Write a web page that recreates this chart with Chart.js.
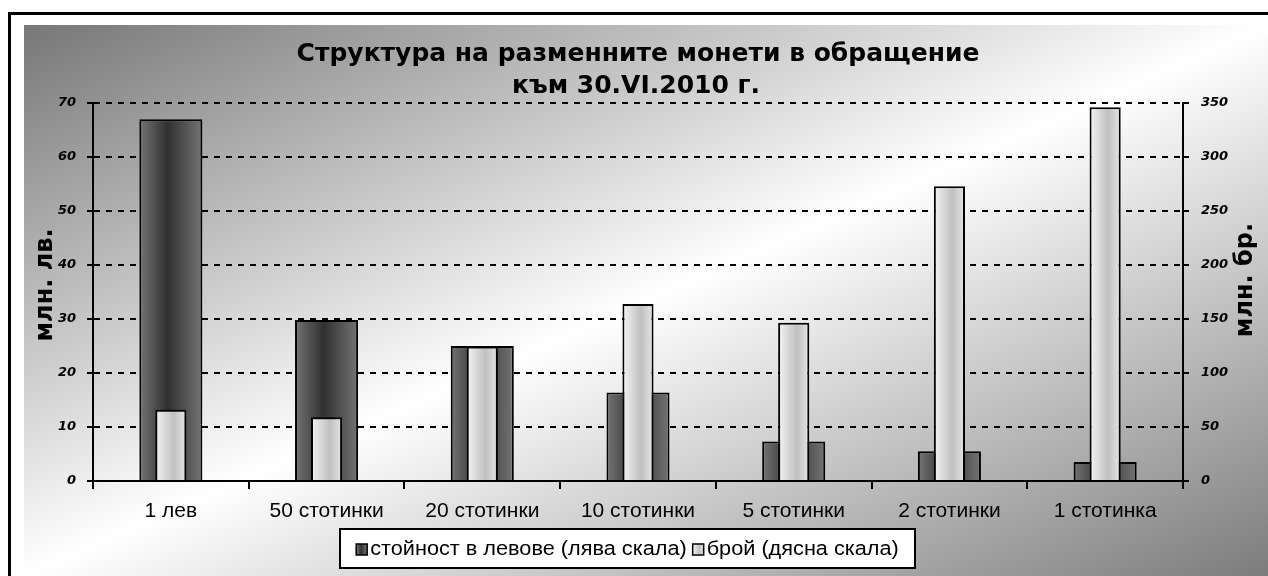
<!DOCTYPE html>
<html>
<head>
<meta charset="utf-8">
<script src="https://cdn.jsdelivr.net/npm/chart.js@4.4.0/dist/chart.umd.min.js"></script>
<style>
  html, body { margin: 0; padding: 0; background: #fff; }
  #c { display: block; }
</style>
</head>
<body>
<canvas id="c" width="1268" height="576"></canvas>
<script>
const categories = ["1 лев", "50 стотинки", "20 стотинки", "10 стотинки", "5 стотинки", "2 стотинки", "1 стотинка"];
const valueLeva = [67, 29.8, 25, 16.4, 7.3, 5.5, 3.5];      // млн. лв., left scale
const countPieces = [66, 59, 124.5, 164, 146.5, 273, 346];  // млн. бр., right scale
const leftScale = { max: 70, step: 10 };
const rightScale = { max: 350, step: 50 };
const titleLines = ["Структура на разменните монети в обращение", "към 30.VI.2010 г."];
const leftTitle = "млн. лв.";
const rightTitle = "млн. бр.";
const seriesLabels = ["стойност в левове (лява скала)", "брой (дясна скала)"];

const darkStops = [[0, "#747474"], [0.45, "#303030"], [1, "#747474"]];
const lightStops = [[0, "#f4f4f4"], [0.6, "#c0c0c0"], [1, "#e6e6e6"]];
const DARK_PCT = 0.405;
const LIGHT_PCT = 0.2;

function barFill(stops, pct) {
  return (ctx) => {
    const chart = ctx.chart;
    const x = chart.scales.x;
    if (!chart.chartArea || ctx.type !== "data" || !x) return stops[1][1];
    const cx = x.getPixelForValue(ctx.dataIndex);
    const w = (x.width / categories.length) * pct;
    const g = chart.ctx.createLinearGradient(cx - w / 2, 0, cx + w / 2, 0);
    stops.forEach(([o, c]) => g.addColorStop(o, c));
    return g;
  };
}

// background, frame, titles and boxed legend
const decorations = {
  id: "decorations",
  beforeDraw(chart) {
    const ctx = chart.ctx;
    ctx.save();
    ctx.fillStyle = "#fff";
    ctx.fillRect(0, 0, chart.width, chart.height);
    // diagonal gradient stretched to the box
    ctx.save();
    ctx.translate(24, 25);
    ctx.scale(1244, 551);
    const g = ctx.createLinearGradient(0, 0, 1, 1);
    g.addColorStop(0, "#777777");
    g.addColorStop(0.5, "#ffffff");
    g.addColorStop(1, "#7c7c7c");
    ctx.fillStyle = g;
    ctx.fillRect(0, 0, 1, 1);
    ctx.restore();
    ctx.lineWidth = 3;
    ctx.strokeStyle = "#000";
    ctx.strokeRect(9.5, 13.5, 1400, 700);
    ctx.restore();
  },
  afterDraw(chart) {
    const ctx = chart.ctx;
    ctx.save();
    ctx.fillStyle = "#000";
    ctx.textAlign = "center";
    ctx.textBaseline = "middle";
    ctx.font = "bold 25px 'DejaVu Sans'";
    ctx.fillText(titleLines[0], 638, 54);
    ctx.fillText(titleLines[1], 636, 86);

    ctx.font = "bold 24px 'DejaVu Sans'";
    [[leftTitle, 46, 285], [rightTitle, 1246, 280]].forEach(([t, x, y]) => {
      ctx.save();
      ctx.translate(x, y);
      ctx.rotate(-Math.PI / 2);
      ctx.fillText(t, 0, 0);
      ctx.restore();
    });

    // legend
    const box = { x: 340, y: 529, w: 575, h: 39 };
    ctx.fillStyle = "#fff";
    ctx.fillRect(box.x, box.y, box.w, box.h);
    ctx.lineWidth = 2;
    ctx.strokeStyle = "#000";
    ctx.strokeRect(box.x, box.y, box.w, box.h);
    ctx.font = "20px 'Liberation Sans'";
    ctx.textAlign = "left";
    const stretch = 1.085;
    const sq = 11, gapIn = 3, gapOut = 6;
    const widths = seriesLabels.map(t => ctx.measureText(t).width * stretch);
    const total = widths.reduce((a, b) => a + b, 0) + 2 * (sq + gapIn) + gapOut;
    let x = box.x + (box.w - total) / 2;
    const cy = box.y + box.h / 2 + 1;
    [darkStops, lightStops].forEach((stops, i) => {
      const lg = ctx.createLinearGradient(x, 0, x + sq, 0);
      stops.forEach(([o, c]) => lg.addColorStop(o, c));
      ctx.fillStyle = lg;
      ctx.fillRect(x, cy - sq / 2, sq, sq);
      ctx.lineWidth = 1.5;
      ctx.strokeRect(x, cy - sq / 2, sq, sq);
      ctx.fillStyle = "#000";
      ctx.save();
      ctx.translate(x + sq + gapIn, cy);
      ctx.scale(stretch, 1);
      ctx.fillText(seriesLabels[i], 0, 0);
      ctx.restore();
      x += sq + gapIn + widths[i] + gapOut;
    });
    ctx.restore();
  }
};

const tickFont = { family: "'DejaVu Sans'", size: 13, weight: "bold", style: "italic" };

new Chart(document.getElementById("c"), {
  type: "bar",
  data: {
    labels: categories,
    datasets: [
      {
        label: seriesLabels[0],
        data: valueLeva,
        yAxisID: "y",
        grouped: false,
        order: 2,
        categoryPercentage: 1,
        barPercentage: DARK_PCT,
        backgroundColor: barFill(darkStops, DARK_PCT),
        borderColor: "#000",
        borderWidth: 2,
      },
      {
        label: seriesLabels[1],
        data: countPieces,
        yAxisID: "y1",
        grouped: false,
        order: 1,
        categoryPercentage: 1,
        barPercentage: LIGHT_PCT,
        backgroundColor: barFill(lightStops, LIGHT_PCT),
        borderColor: "#000",
        borderWidth: 2,
      },
    ],
  },
  options: {
    responsive: false,
    animation: false,
    devicePixelRatio: 1,
    layout: { padding: { top: 103, left: 0, right: 0, bottom: 0 } },
    plugins: {
      legend: { display: false },
      title: { display: false },
      tooltip: { enabled: false },
    },
    scales: {
      x: {
        offset: true,
        grid: { offset: true, drawOnChartArea: false, color: "#000", lineWidth: 2, tickLength: 8 },
        border: { color: "#000", width: 2 },
        ticks: { color: "#000", font: { family: "'Liberation Sans'", size: 21 }, padding: 10, maxRotation: 0 },
        afterFit: (s) => { s.height = 95; },
      },
      y: {
        position: "left",
        min: 0,
        max: leftScale.max,
        ticks: { stepSize: leftScale.step, color: "#000", font: tickFont, padding: 11 },
        grid: { color: "#000", lineWidth: 2, tickLength: 6, tickBorderDash: [] },
        border: { color: "#000", width: 2, dash: [6, 6] },
        afterFit: (s) => { s.width = 93; },
      },
      y1: {
        position: "right",
        min: 0,
        max: rightScale.max,
        ticks: { stepSize: rightScale.step, color: "#000", font: tickFont, padding: 12 },
        grid: { drawOnChartArea: false, color: "#000", lineWidth: 2, tickLength: 6 },
        border: { color: "#000", width: 2 },
        afterFit: (s) => { s.width = 85; },
      },
    },
  },
  plugins: [decorations],
});
</script>
</body>
</html>
